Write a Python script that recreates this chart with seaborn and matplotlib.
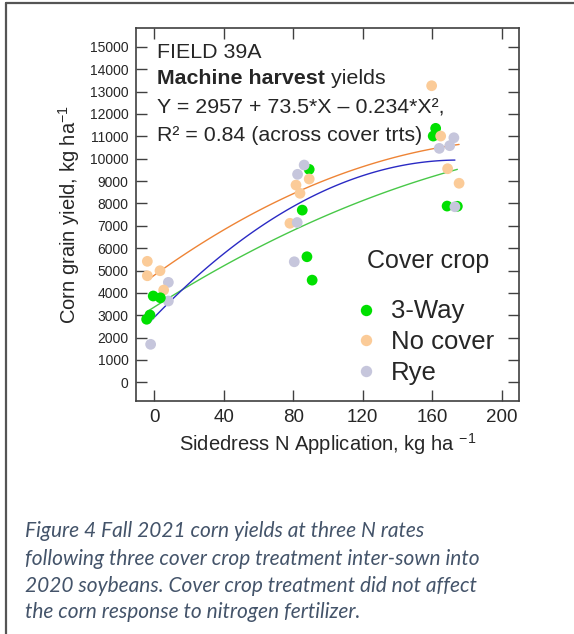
import matplotlib

matplotlib.use("Agg")
import matplotlib.pyplot as plt
import pandas as pd
import seaborn as sns
from matplotlib.lines import Line2D

# Field 39A machine harvest yields (x is jittered N rate)
n_3way = [-4.4, -2.5, -0.6, 3.5, 89.2, 85.2, 87.9, 90.9, 162.0, 160.6, 168.6, 174.5]
y_3way = [2820, 3010, 3860, 3780, 9520, 7700, 5615, 4570, 11355, 11010, 7880, 7870]
n_nocover = [-4.0, -4.0, 3.3, 5.4, 81.6, 89.2, 83.9, 78.1, 159.7, 164.9, 168.9, 175.5]
y_nocover = [5410, 4765, 4990, 4125, 8820, 9090, 8450, 7110, 13260, 11010, 9550, 8900]
n_rye = [-2.1, -2.5, 8.1, 8.1, 86.3, 82.5, 82.3, 80.6, 164.1, 170.1, 172.5, 173.1]
y_rye = [1700, 3000, 4470, 3635, 9715, 9300, 7145, 5390, 10460, 10580, 10935, 7850]

covers = ["3-Way", "No cover", "Rye"]
point_colors = {"3-Way": "#00e000", "No cover": "#fbcb98", "Rye": "#c6c6dc"}
line_colors = {"3-Way": "#48c848", "No cover": "#ee8436", "Rye": "#2a2ac4"}

x_ticks = [0, 40, 80, 120, 160, 200]
y_ticks = list(range(0, 16000, 1000))

caption = [
    "Figure 4 Fall 2021 corn yields at three N rates",
    "following three cover crop treatment inter-sown into",
    "2020 soybeans. Cover crop treatment did not affect",
    "the corn response to nitrogen fertilizer.",
]
caption_baselines = [537, 565, 592, 618]

frame = pd.concat(
    [
        pd.DataFrame({"N": n_3way, "yield": y_3way, "cover": "3-Way"}),
        pd.DataFrame({"N": n_nocover, "yield": y_nocover, "cover": "No cover"}),
        pd.DataFrame({"N": n_rye, "yield": y_rye, "cover": "Rye"}),
    ],
    ignore_index=True,
)
# stacking of overlapping dots: 3-Way on top at zero N, Rye on top elsewhere
rank = frame["cover"].map({c: i for i, c in enumerate(covers)})
frame["layer"] = rank.where(frame["N"] > 40, 2 - rank)
frame = frame.sort_values("layer", kind="stable")

sns.set_theme(style="ticks")
plt.rcParams["font.family"] = ["Liberation Sans", "DejaVu Sans"]
plt.rcParams["mathtext.fontset"] = "custom"
plt.rcParams["mathtext.rm"] = "Liberation Sans"
plt.rcParams["mathtext.it"] = "Liberation Sans:italic"
plt.rcParams["mathtext.bf"] = "Liberation Sans:bold"

fig = plt.figure(figsize=(5.74, 6.34), dpi=100)
ax = fig.add_axes([0.2364, 0.368, 0.6678, 0.5878])

for cover in covers:
    part = frame[frame["cover"] == cover]
    sns.regplot(
        data=part, x="N", y="yield", order=2, ci=None, scatter=False,
        color=line_colors[cover], line_kws={"lw": 1.0}, ax=ax,
    )

sns.scatterplot(
    data=frame, x="N", y="yield", hue="cover", palette=point_colors,
    hue_order=covers, s=60, linewidth=0, alpha=1, legend=False, ax=ax, zorder=3,
)

ax.set_xlim(-10.7, 210)
ax.set_ylim(-820, 15840)
ax.set_xticks(x_ticks)
ax.set_yticks(y_ticks)
ax.tick_params(direction="in", top=True, right=True, length=8, width=1,
               color="#404040")
ax.tick_params(axis="x", labelsize=13.5, pad=6)
ax.tick_params(axis="y", labelsize=10, pad=5)
for spine in ax.spines.values():
    spine.set_visible(True)
    spine.set_color("#404040")
    spine.set_linewidth(1.2)

ax.set_xlabel(r"Sidedress N Application, kg ha $^{-1}$", fontsize=14.5, labelpad=4)
ax.set_ylabel(r"Corn grain yield, kg ha$^{-1}$", fontsize=14.5, labelpad=6)

ax.text(0.055, 0.92, "FIELD 39A", transform=ax.transAxes, fontsize=15.4,
        va="baseline")
bold = ax.text(0.055, 0.85, "Machine harvest", transform=ax.transAxes,
               fontsize=15.4, fontweight="bold", va="baseline")
ax.annotate(" yields", xy=(1, 0), xycoords=bold, fontsize=15.4, va="bottom")
ax.text(0.055, 0.77, "Y = 2957 + 73.5*X \u2013 0.234*X\u00b2,",
        transform=ax.transAxes, fontsize=15.4, va="baseline")
ax.text(0.055, 0.698, "R\u00b2 = 0.84 (across cover trts)",
        transform=ax.transAxes, fontsize=15.4, va="baseline")

ax.text(0.6034, 0.356, "Cover crop", transform=ax.transAxes, fontsize=18,
        va="baseline")
handles = [
    Line2D([], [], ls="none", marker="o", ms=8.2, mec="none",
           mfc=point_colors[c]) for c in covers
]
ax.legend(handles, covers, loc="upper left", bbox_to_anchor=(0.518, 0.306),
          frameon=False, fontsize=18.5, handletextpad=0.2, labelspacing=0.26,
          borderpad=0, handlelength=1.5)

for line, base in zip(caption, caption_baselines):
    fig.text(25 / 574, 1 - base / 634, line, fontsize=15, family="Lato",
             style="italic", color="#44546a", va="baseline")

fig.add_artist(Line2D([6 / 574, 6 / 574], [0, 1 - 3 / 634],
                      transform=fig.transFigure, color="#555555", lw=1.6))
fig.add_artist(Line2D([6 / 574, 1], [1 - 3 / 634, 1 - 3 / 634],
                      transform=fig.transFigure, color="#555555", lw=1.6))

fig.savefig("out.png", dpi=100, facecolor="white")
plt.close(fig)
